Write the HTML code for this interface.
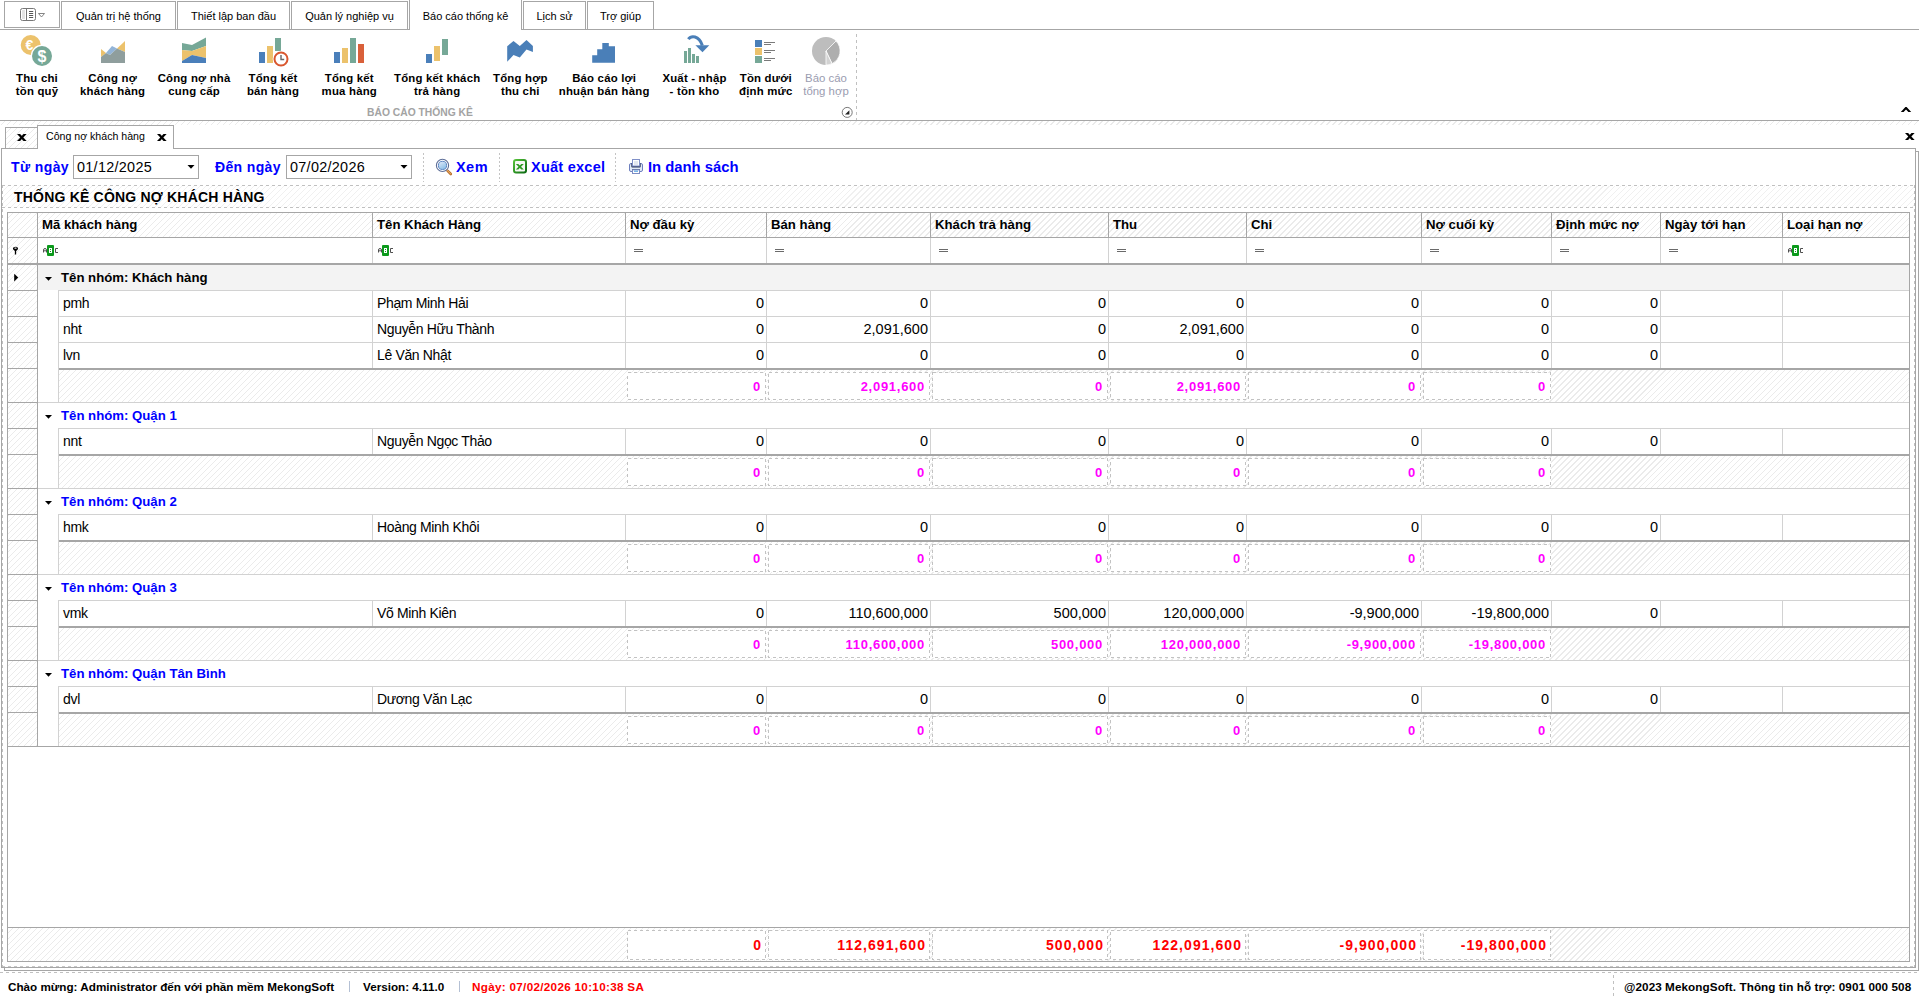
<!DOCTYPE html>
<html><head><meta charset="utf-8">
<style>
*{box-sizing:border-box;margin:0;padding:0}
html,body{width:1919px;height:999px;overflow:hidden;background:#fff}
body{font-family:"Liberation Sans",sans-serif;color:#000;position:relative}
.a{position:absolute}
.hatch{background:repeating-linear-gradient(135deg,#fff 0,#fff 3.2px,#ebebeb 3.2px,#ebebeb 4.24px)}
.hl{position:absolute;height:1px}
.vl{position:absolute;width:1px}
.dh{position:absolute;height:1px;background:repeating-linear-gradient(90deg,#c0c0c0 0 3px,transparent 3px 6px)}
.dv{position:absolute;width:1px;background:repeating-linear-gradient(180deg,#c0c0c0 0 3px,transparent 3px 6px)}
.tab{position:absolute;top:1px;height:29px;border:1px solid #a6a6a6;border-bottom:none;font-size:11px;text-align:center;line-height:28px;color:#000;background:#fff}
.rb{position:absolute;top:72px;font-size:11.4px;letter-spacing:0.2px;font-weight:bold;text-align:center;line-height:13px;white-space:nowrap}
.ri{position:absolute;top:34px}
</style></head>
<body>
<!-- ===== top tab bar ===== -->
<div class="a" style="left:4px;top:1px;width:56px;height:27px;border:1px solid #a6a6a6"></div>
<svg class="a" style="left:19px;top:7px" width="28" height="15" viewBox="0 0 28 15">
 <rect x="1.5" y="1.5" width="15" height="12" rx="2" fill="#fff" stroke="#777" stroke-width="1"/>
 <rect x="3" y="3" width="3" height="9" fill="#e4e4e4"/>
 <line x1="7.5" y1="1.5" x2="7.5" y2="13.5" stroke="#777"/>
 <path d="M10 4.5h4.2M10 6.5h4.2M10 8.5h4.2M10 10.5h4.2" stroke="#444" stroke-width="0.9"/>
 <path d="M19.5 6.5h6l-3 3.5z" fill="#fff" stroke="#777" stroke-width="0.9"/>
</svg>
<div class="tab" style="left:61px;width:115px">Quản trị hệ thống</div>
<div class="tab" style="left:177px;width:113px">Thiết lập ban đầu</div>
<div class="tab" style="left:291px;width:117px">Quản lý nghiệp vụ</div>
<div class="tab" style="left:409px;top:-1px;height:31px;width:113px;line-height:32px">Báo cáo thống kê</div>
<div class="tab" style="left:523px;width:63px">Lịch sử</div>
<div class="tab" style="left:587px;width:67px">Trợ giúp</div>
<div class="hl" style="left:0;top:29px;width:410px;background:#a6a6a6"></div>
<div class="hl" style="left:521px;top:29px;width:1398px;background:#a6a6a6"></div>

<!-- ===== ribbon ===== -->

<svg class="a" style="left:0;top:30px" width="870" height="40" viewBox="0 30 870 40">
 <!-- 1 coins -->
 <circle cx="30.7" cy="45" r="10" fill="#ecc26c"/>
 <text x="29.5" y="50" font-family="Liberation Sans" font-weight="bold" font-size="14" fill="#fff" text-anchor="middle">€</text>
 <circle cx="42" cy="56" r="11.2" fill="#fff"/>
 <circle cx="42" cy="56" r="10" fill="#76a897"/>
 <text x="42" y="62" font-family="Liberation Sans" font-weight="bold" font-size="16" fill="#fff" text-anchor="middle">$</text>
 <!-- 2 area -->
 <polygon points="101,49 106,53 101,57" fill="#ecc26c"/>
 <polygon points="117,48.5 125,41 125,52" fill="#ecc26c"/>
 <polygon points="106,53 112,46 117,48.5 110,55" fill="#92b4d8"/>
 <polygon points="101,57 106,53 110,55 117,48.5 125,52 125,63 101,63" fill="#8f9e9d"/>
 <!-- 3 stacked -->
 <polygon points="182,43 192,45 206,37.5 206,46 192,51 182,50" fill="#76a897"/>
 <polygon points="182,50 192,51 206,46 206,58 192,55 182,61" fill="#ecc26c"/>
 <polygon points="182,61 192,55 206,58 206,63 182,63" fill="#4a7fba"/>
 <!-- 4 bars clock -->
 <rect x="259" y="52" width="6" height="11" fill="#4a7fba"/>
 <rect x="267" y="46" width="6" height="17" fill="#ecc26c"/>
 <rect x="275" y="38" width="6" height="13" fill="#76a897"/>
 <circle cx="281" cy="59" r="8.3" fill="#fff"/>
 <circle cx="281" cy="59" r="6.5" fill="#fff" stroke="#d9572f" stroke-width="2"/>
 <path d="M281 55v4.5h3.2" fill="none" stroke="#666" stroke-width="1.4"/>
 <!-- 5 bars -->
 <rect x="334" y="52" width="6" height="11" fill="#4a7fba"/>
 <rect x="342" y="48" width="6" height="15" fill="#ecc26c"/>
 <rect x="350" y="38" width="6" height="25" fill="#76a897"/>
 <rect x="358" y="44" width="6" height="19" fill="#d9603a"/>
 <!-- 6 -->
 <rect x="426" y="54" width="6" height="9" fill="#4a7fba"/>
 <rect x="434" y="46" width="6" height="15" fill="#ecc26c"/>
 <rect x="442" y="39" width="6" height="16" fill="#76a897"/>
 <!-- 7 -->
 <polygon points="507.2,46.2 513.5,41.1 519.8,45.9 526.5,40 532.9,46 532.9,52.1 526.5,49.4 519.8,57.5 513.5,55 507.2,61.8" fill="#4a7fb8"/>
 <!-- 8 -->
 <polygon points="592.2,55.2 597.2,55.2 597.2,49.2 602.3,49.2 602.3,43.1 608.8,43.1 608.8,46.2 615,46.2 615,62.8 592.2,62.8" fill="#4a7fb8"/>
 <!-- 9 -->
 <rect x="684" y="51" width="3" height="12" fill="#76a897"/>
 <rect x="688" y="48" width="3" height="15" fill="#76a897"/>
 <rect x="692" y="54" width="3" height="9" fill="#76a897"/>
 <rect x="696" y="56" width="3" height="7" fill="#76a897"/>
 <path d="M688.3 39.2 C691 35.5 699 35 702.3 45.5" fill="none" stroke="#4a7fb8" stroke-width="3"/>
 <polygon points="695.4,45.2 709.3,45.2 702.5,52.2" fill="#4a7fb8"/>
 <!-- 10 -->
 <rect x="755" y="40" width="7" height="7" fill="#4a7fb8"/>
 <rect x="755" y="48" width="7" height="7" fill="#ecc26c"/>
 <rect x="755" y="56" width="7" height="7" fill="#76a897"/>
 <path d="M764 42.5h11M764 44.5h7M764 50.5h11M764 52.5h7M764 58.5h11M764 60.5h7" stroke="#7a7a7a" stroke-width="1"/>
 <!-- 11 pie -->
 <circle cx="826" cy="51" r="14" fill="#bdbdbd"/>
 <path d="M826 51 L836 41 A14 14 0 0 1 832 63.6 Z" fill="#aeaeae" stroke="#fff" stroke-width="0.8"/>
 <path d="M826 51 L832 63.6 A14 14 0 0 1 826 65 Z" fill="#d2d2d2" stroke="#fff" stroke-width="0.8"/>
</svg>
<div class="rb" style="left:-23px;width:120px">Thu chi<br>tồn quỹ</div>
<div class="rb" style="left:52.599999999999994px;width:120px">Công nợ<br>khách hàng</div>
<div class="rb" style="left:134.1px;width:120px">Công nợ nhà<br>cung cấp</div>
<div class="rb" style="left:213px;width:120px">Tổng kết<br>bán hàng</div>
<div class="rb" style="left:289.3px;width:120px">Tổng kết<br>mua hàng</div>
<div class="rb" style="left:377.2px;width:120px">Tổng kết khách<br>trả hàng</div>
<div class="rb" style="left:460.29999999999995px;width:120px">Tổng hợp<br>thu chi</div>
<div class="rb" style="left:544.2px;width:120px">Báo cáo lợi<br>nhuận bán hàng</div>
<div class="rb" style="left:634.5px;width:120px">Xuất - nhập<br>- tồn kho</div>
<div class="rb" style="left:705.8px;width:120px">Tồn dưới<br>định mức</div>
<div class="rb" style="left:766px;width:120px;font-weight:normal;letter-spacing:0;color:#9a9cb0">Báo cáo<br>tổng hợp</div>
<div class="a" style="left:300px;width:240px;top:107px;text-align:center;font-size:10.3px;font-weight:bold;color:#a3a3a3;line-height:12px">BÁO CÁO THỐNG KÊ</div>
<div class="dv" style="left:856px;top:34px;height:86px"></div>
<svg class="a" style="left:841px;top:106px" width="13" height="13" viewBox="0 0 13 13"><circle cx="6.2" cy="6.4" r="5" fill="#fff" stroke="#555" stroke-width="0.8"/><polygon points="4,8.6 8.4,8.6 8.4,4.2" fill="#222"/></svg>
<svg class="a" style="left:1900px;top:106px" width="12" height="7" viewBox="0 0 12 7"><polygon points="0.8,6 3.6,6 6,3.6 8.4,6 11.2,6 6.6,1 5.4,1" fill="#000"/></svg>

<div class="hl" style="left:0;top:120px;width:1919px;background:#a6a6a6"></div>

<!-- ===== doc tabs ===== -->
<div class="a hatch" style="left:0;top:121px;width:1919px;height:4px"></div>


<!-- doc tab strip -->
<div class="a hatch" style="left:5px;top:127px;width:33px;height:22px;border:1px solid #a6a6a6;border-bottom:none"></div>
<svg class="a" style="left:17px;top:134px" width="10" height="8" viewBox="0 0 10 8"><polygon points="0,0 3.1,0 9.6,7 6.5,7" fill="#000"/><polygon points="6.5,0 9.6,0 3.1,7 0,7" fill="#000"/></svg>
<div class="a" style="left:37px;top:125px;width:137px;height:25px;border:1px solid #a6a6a6;border-bottom:none;background:#fff"></div>
<div class="a" style="left:46px;top:129px;font-size:10.6px;line-height:14px;white-space:nowrap">Công nợ khách hàng</div>
<svg class="a" style="left:157px;top:134px" width="10" height="8" viewBox="0 0 10 8"><polygon points="0,0 3.1,0 9.6,7 6.5,7" fill="#000"/><polygon points="6.5,0 9.6,0 3.1,7 0,7" fill="#000"/></svg>
<svg class="a" style="left:1905px;top:133px" width="10" height="8" viewBox="0 0 10 8"><polygon points="0,0 3.1,0 9.6,7 6.5,7" fill="#000"/><polygon points="6.5,0 9.6,0 3.1,7 0,7" fill="#000"/></svg>
<!-- panel frames -->
<div class="a" style="left:4px;top:151px;width:1915px;height:820px;border:1px solid #a6a6a6;border-left:1px solid #a6a6a6"></div>
<div class="a" style="left:1px;top:148px;width:1915px;height:820px;border:1px solid #a6a6a6;background:#fff"></div>
<div class="a" style="left:38px;top:148px;width:135px;height:1px;background:#fff"></div>
<!-- layout dashed border -->
<div class="a" style="left:2px;top:966px;width:1913px;height:1px;background:repeating-linear-gradient(90deg,#c8c8c8 0 3px,transparent 3px 6px)"></div>

<div class="a" style="left:11px;top:159px;font-size:14px;font-weight:bold;letter-spacing:0.4px;color:#0000ff;line-height:16px;white-space:nowrap">Từ ngày</div>
<div class="a" style="left:215px;top:159px;font-size:14px;font-weight:bold;letter-spacing:0.35px;color:#0000ff;line-height:16px;white-space:nowrap">Đến ngày</div>
<div class="a" style="left:73px;top:155px;width:126px;height:24px;border:1px solid #a6a6a6;background:#fff"></div>
<div class="a" style="left:77px;top:159px;font-size:14.4px;letter-spacing:0.3px;line-height:16px;white-space:nowrap">01/12/2025</div>
<svg class="a" style="left:186.5px;top:164px" width="8" height="5" viewBox="0 0 8 5"><polygon points="0.5,1 7.5,1 4,4.7" fill="#000"/></svg>
<div class="a" style="left:286px;top:155px;width:126px;height:24px;border:1px solid #a6a6a6;background:#fff"></div>
<div class="a" style="left:290px;top:159px;font-size:14.4px;letter-spacing:0.3px;line-height:16px;white-space:nowrap">07/02/2026</div>
<svg class="a" style="left:399.5px;top:164px" width="8" height="5" viewBox="0 0 8 5"><polygon points="0.5,1 7.5,1 4,4.7" fill="#000"/></svg>
<div class="a" style="left:423px;top:153px;width:1px;height:29px;background:repeating-linear-gradient(180deg,#c4c4c4 0 2px,transparent 2px 4px)"></div>
<div class="a" style="left:499px;top:153px;width:1px;height:29px;background:repeating-linear-gradient(180deg,#c4c4c4 0 2px,transparent 2px 4px)"></div>
<div class="a" style="left:615px;top:153px;width:1px;height:29px;background:repeating-linear-gradient(180deg,#c4c4c4 0 2px,transparent 2px 4px)"></div>
<svg class="a" style="left:435px;top:158px" width="18" height="18" viewBox="0 0 18 18">
<defs><linearGradient id="lg" x1="0" y1="0" x2="0.6" y2="1"><stop offset="0" stop-color="#e6ecfa"/><stop offset="1" stop-color="#8cc0e8"/></linearGradient></defs>
<line x1="12.4" y1="12.6" x2="15.8" y2="16" stroke="#b8702e" stroke-width="2.6" stroke-linecap="round"/>
<line x1="12.4" y1="12.6" x2="15.6" y2="15.8" stroke="#f2b264" stroke-width="1" stroke-linecap="round"/>
<circle cx="7.5" cy="7.4" r="6.1" fill="#fff" stroke="#5e6f98" stroke-width="1.1"/>
<circle cx="7.5" cy="7.4" r="4.1" fill="url(#lg)" stroke="#5d86c4" stroke-width="1"/>
</svg>
<div class="a" style="left:456px;top:159px;font-size:14.5px;font-weight:bold;letter-spacing:0.45px;color:#0000ff;line-height:16px">Xem</div>
<svg class="a" style="left:513px;top:159px" width="14" height="15" viewBox="0 0 14 15">
<defs><linearGradient id="xg" x1="0" y1="0" x2="1" y2="1"><stop offset="0" stop-color="#56c23a"/><stop offset="1" stop-color="#0b6a12"/></linearGradient></defs>
<rect x="1" y="1" width="12" height="12.6" rx="2" fill="#f6f8f4" stroke="url(#xg)" stroke-width="2"/>
<polygon points="2.8,5 5.3,5 10.8,10.6 8.3,10.6" fill="#2c9a20"/>
<polygon points="8.3,5 10.8,5 5.3,10.6 2.8,10.6" fill="#2c9a20"/>
</svg>
<div class="a" style="left:531px;top:159px;font-size:14.5px;font-weight:bold;letter-spacing:0.25px;color:#0000ff;line-height:16px;white-space:nowrap">Xuất excel</div>
<svg class="a" style="left:628px;top:158px" width="16" height="17" viewBox="0 0 16 17">
<rect x="1.5" y="5.5" width="13" height="8" rx="1.5" fill="#e2eaf6" stroke="#6d7fbf" stroke-width="1"/>
<rect x="3.3" y="5" width="9.4" height="4.6" rx="1" fill="#2b3658"/>
<rect x="4.5" y="1.5" width="7" height="6.5" fill="#fff" stroke="#8090c8" stroke-width="1"/>
<rect x="6" y="3" width="4" height="4" fill="#e4e8f0"/>
<rect x="4" y="11" width="8" height="1.3" fill="#2b3658"/>
<rect x="4.5" y="11.8" width="7" height="3.7" fill="#fff" stroke="#7c8cc4" stroke-width="1"/>
<rect x="6" y="12.5" width="4" height="1.4" fill="#6ab0e6"/>
</svg>
<div class="a" style="left:648px;top:159px;font-size:14.8px;font-weight:bold;color:#0000ff;line-height:16px;white-space:nowrap">In danh sách</div>
<div class="a" style="left:3px;top:186px;width:1911px;height:21px;background:repeating-linear-gradient(135deg,#fff 0,#fff 3.2px,#f0f0f0 3.2px,#f0f0f0 4.24px)"></div>
<div class="dh" style="left:2px;top:185px;width:1911px"></div>
<div class="dh" style="left:2px;top:207px;width:1911px"></div>
<div class="a" style="left:14px;top:189px;font-size:14px;font-weight:bold;letter-spacing:0.2px;line-height:16px;white-space:nowrap">THỐNG KÊ CÔNG NỢ KHÁCH HÀNG</div>
<div class="dv" style="left:2px;top:185px;height:782px"></div>
<div class="dv" style="left:1914px;top:185px;height:782px"></div>
<div class="a" style="left:7px;top:212px;width:1903px;height:750px;border:1px solid #a6a6a6;background:#fff"></div>
<div class="a" style="left:8px;top:213px;width:1901px;height:24px;background:repeating-linear-gradient(135deg,#fff 0,#fff 3.2px,#ebebeb 3.2px,#ebebeb 4.24px)"></div>
<div class="hl" style="left:8px;top:237px;width:1901px;background:#a6a6a6"></div>
<div class="vl" style="left:37px;top:213px;height:533px;background:#a6a6a6"></div>
<div class="vl" style="left:372px;top:213px;height:24px;background:#a6a6a6"></div>
<div class="vl" style="left:372px;top:238px;height:25px;background:#d2d2d2"></div>
<div class="vl" style="left:625px;top:213px;height:24px;background:#a6a6a6"></div>
<div class="vl" style="left:625px;top:238px;height:25px;background:#d2d2d2"></div>
<div class="vl" style="left:766px;top:213px;height:24px;background:#a6a6a6"></div>
<div class="vl" style="left:766px;top:238px;height:25px;background:#d2d2d2"></div>
<div class="vl" style="left:930px;top:213px;height:24px;background:#a6a6a6"></div>
<div class="vl" style="left:930px;top:238px;height:25px;background:#d2d2d2"></div>
<div class="vl" style="left:1108px;top:213px;height:24px;background:#a6a6a6"></div>
<div class="vl" style="left:1108px;top:238px;height:25px;background:#d2d2d2"></div>
<div class="vl" style="left:1246px;top:213px;height:24px;background:#a6a6a6"></div>
<div class="vl" style="left:1246px;top:238px;height:25px;background:#d2d2d2"></div>
<div class="vl" style="left:1421px;top:213px;height:24px;background:#a6a6a6"></div>
<div class="vl" style="left:1421px;top:238px;height:25px;background:#d2d2d2"></div>
<div class="vl" style="left:1551px;top:213px;height:24px;background:#a6a6a6"></div>
<div class="vl" style="left:1551px;top:238px;height:25px;background:#d2d2d2"></div>
<div class="vl" style="left:1660px;top:213px;height:24px;background:#a6a6a6"></div>
<div class="vl" style="left:1660px;top:238px;height:25px;background:#d2d2d2"></div>
<div class="vl" style="left:1782px;top:213px;height:24px;background:#a6a6a6"></div>
<div class="vl" style="left:1782px;top:238px;height:25px;background:#d2d2d2"></div>
<div class="a" style="left:42px;top:217px;font-size:13.2px;font-weight:bold;line-height:16px;white-space:nowrap">Mã khách hàng</div>
<div class="a" style="left:377px;top:217px;font-size:13.2px;font-weight:bold;line-height:16px;white-space:nowrap">Tên Khách Hàng</div>
<div class="a" style="left:630px;top:217px;font-size:13.2px;font-weight:bold;line-height:16px;white-space:nowrap">Nợ đầu kỳ</div>
<div class="a" style="left:771px;top:217px;font-size:13.2px;font-weight:bold;line-height:16px;white-space:nowrap">Bán hàng</div>
<div class="a" style="left:935px;top:217px;font-size:13.2px;font-weight:bold;line-height:16px;white-space:nowrap">Khách trả hàng</div>
<div class="a" style="left:1113px;top:217px;font-size:13.2px;font-weight:bold;line-height:16px;white-space:nowrap">Thu</div>
<div class="a" style="left:1251px;top:217px;font-size:13.2px;font-weight:bold;line-height:16px;white-space:nowrap">Chi</div>
<div class="a" style="left:1426px;top:217px;font-size:13.2px;font-weight:bold;line-height:16px;white-space:nowrap">Nợ cuối kỳ</div>
<div class="a" style="left:1556px;top:217px;font-size:13.2px;font-weight:bold;line-height:16px;white-space:nowrap">Định mức nợ</div>
<div class="a" style="left:1665px;top:217px;font-size:13.2px;font-weight:bold;line-height:16px;white-space:nowrap">Ngày tới hạn</div>
<div class="a" style="left:1787px;top:217px;font-size:13.2px;font-weight:bold;line-height:16px;white-space:nowrap">Loại hạn nợ</div>
<div class="a" style="left:8px;top:238px;width:29px;height:25px;background:repeating-linear-gradient(135deg,#fff 0,#fff 3.2px,#ebebeb 3.2px,#ebebeb 4.24px)"></div>
<div class="a" style="left:8px;top:263px;width:1901px;height:2px;background:#a6a6a6"></div>
<svg class="a" style="left:12px;top:246px" width="8" height="9" viewBox="0 0 8 9"><ellipse cx="3.5" cy="2.6" rx="2.6" ry="1.8" fill="#000"/><ellipse cx="3.5" cy="2.1" rx="1.3" ry="0.6" fill="#fff"/><path d="M1.2 3.4L3.5 5.6L5.8 3.4Z" fill="#000"/><line x1="3.5" y1="5" x2="3.5" y2="8.5" stroke="#000" stroke-width="1.3"/></svg>
<svg class="a" style="left:43px;top:244px" width="17" height="13" viewBox="0 0 17 13"><path d="M0.5 8.5V6Q0.5 4.5 2 4.5Q3.5 4.5 3.5 6V8.5M0.5 6.8H3.5" fill="none" stroke="#505050" stroke-width="1"/><rect x="4" y="1" width="7" height="11" rx="1" fill="#0c9a1c"/><rect x="6" y="4" width="3" height="5" fill="#fff"/><rect x="7" y="5" width="1" height="1" fill="#0c9a1c"/><rect x="7" y="7" width="1" height="1" fill="#0c9a1c"/><path d="M15 4.5H12.5V8.5H15" fill="none" stroke="#505050" stroke-width="1"/></svg>
<svg class="a" style="left:378px;top:244px" width="17" height="13" viewBox="0 0 17 13"><path d="M0.5 8.5V6Q0.5 4.5 2 4.5Q3.5 4.5 3.5 6V8.5M0.5 6.8H3.5" fill="none" stroke="#505050" stroke-width="1"/><rect x="4" y="1" width="7" height="11" rx="1" fill="#0c9a1c"/><rect x="6" y="4" width="3" height="5" fill="#fff"/><rect x="7" y="5" width="1" height="1" fill="#0c9a1c"/><rect x="7" y="7" width="1" height="1" fill="#0c9a1c"/><path d="M15 4.5H12.5V8.5H15" fill="none" stroke="#505050" stroke-width="1"/></svg>
<svg class="a" style="left:1788px;top:244px" width="17" height="13" viewBox="0 0 17 13"><path d="M0.5 8.5V6Q0.5 4.5 2 4.5Q3.5 4.5 3.5 6V8.5M0.5 6.8H3.5" fill="none" stroke="#505050" stroke-width="1"/><rect x="4" y="1" width="7" height="11" rx="1" fill="#0c9a1c"/><rect x="6" y="4" width="3" height="5" fill="#fff"/><rect x="7" y="5" width="1" height="1" fill="#0c9a1c"/><rect x="7" y="7" width="1" height="1" fill="#0c9a1c"/><path d="M15 4.5H12.5V8.5H15" fill="none" stroke="#505050" stroke-width="1"/></svg>
<div class="a" style="left:634px;top:249px;width:9px;height:3px;border-top:1px solid #6a6a6a;border-bottom:1px solid #6a6a6a"></div>
<div class="a" style="left:775px;top:249px;width:9px;height:3px;border-top:1px solid #6a6a6a;border-bottom:1px solid #6a6a6a"></div>
<div class="a" style="left:939px;top:249px;width:9px;height:3px;border-top:1px solid #6a6a6a;border-bottom:1px solid #6a6a6a"></div>
<div class="a" style="left:1117px;top:249px;width:9px;height:3px;border-top:1px solid #6a6a6a;border-bottom:1px solid #6a6a6a"></div>
<div class="a" style="left:1255px;top:249px;width:9px;height:3px;border-top:1px solid #6a6a6a;border-bottom:1px solid #6a6a6a"></div>
<div class="a" style="left:1430px;top:249px;width:9px;height:3px;border-top:1px solid #6a6a6a;border-bottom:1px solid #6a6a6a"></div>
<div class="a" style="left:1560px;top:249px;width:9px;height:3px;border-top:1px solid #6a6a6a;border-bottom:1px solid #6a6a6a"></div>
<div class="a" style="left:1669px;top:249px;width:9px;height:3px;border-top:1px solid #6a6a6a;border-bottom:1px solid #6a6a6a"></div>
<div class="a" style="left:8px;top:265px;width:29px;height:481px;background:repeating-linear-gradient(135deg,#fff 0,#fff 3.2px,#ebebeb 3.2px,#ebebeb 4.24px)"></div>
<div class="a" style="left:38px;top:265px;width:1871px;height:25px;background:#f3f3f3"></div>
<svg class="a" style="left:13px;top:273px" width="6" height="9" viewBox="0 0 6 9"><polygon points="1.2,0.8 5.2,4.6 1.2,8.4" fill="#000"/></svg>
<svg class="a" style="left:44px;top:276px" width="9" height="5" viewBox="0 0 9 5"><polygon points="1,1 8,1 4.5,4.8" fill="#000"/></svg>
<div class="a" style="left:61px;top:270px;font-size:13.2px;font-weight:bold;color:#000;line-height:16px;white-space:nowrap">Tên nhóm: Khách hàng</div>
<div class="hl" style="left:58px;top:290px;width:1851px;background:#d2d2d2"></div>
<div class="vl" style="left:372px;top:290px;height:26px;background:#d2d2d2"></div>
<div class="vl" style="left:625px;top:290px;height:26px;background:#d2d2d2"></div>
<div class="vl" style="left:766px;top:290px;height:26px;background:#d2d2d2"></div>
<div class="vl" style="left:930px;top:290px;height:26px;background:#d2d2d2"></div>
<div class="vl" style="left:1108px;top:290px;height:26px;background:#d2d2d2"></div>
<div class="vl" style="left:1246px;top:290px;height:26px;background:#d2d2d2"></div>
<div class="vl" style="left:1421px;top:290px;height:26px;background:#d2d2d2"></div>
<div class="vl" style="left:1551px;top:290px;height:26px;background:#d2d2d2"></div>
<div class="vl" style="left:1660px;top:290px;height:26px;background:#d2d2d2"></div>
<div class="vl" style="left:1782px;top:290px;height:26px;background:#d2d2d2"></div>
<div class="a" style="left:63px;top:295px;font-size:14px;letter-spacing:-0.3px;line-height:16px;white-space:nowrap">pmh</div>
<div class="a" style="left:377px;top:295px;font-size:14px;letter-spacing:-0.35px;line-height:16px;white-space:nowrap">Phạm Minh Hải</div>
<div class="a" style="left:626px;top:295px;width:138px;text-align:right;font-size:14.5px;line-height:16px;white-space:nowrap">0</div>
<div class="a" style="left:767px;top:295px;width:161px;text-align:right;font-size:14.5px;line-height:16px;white-space:nowrap">0</div>
<div class="a" style="left:931px;top:295px;width:175px;text-align:right;font-size:14.5px;line-height:16px;white-space:nowrap">0</div>
<div class="a" style="left:1109px;top:295px;width:135px;text-align:right;font-size:14.5px;line-height:16px;white-space:nowrap">0</div>
<div class="a" style="left:1247px;top:295px;width:172px;text-align:right;font-size:14.5px;line-height:16px;white-space:nowrap">0</div>
<div class="a" style="left:1422px;top:295px;width:127px;text-align:right;font-size:14.5px;line-height:16px;white-space:nowrap">0</div>
<div class="a" style="left:1552px;top:295px;width:106px;text-align:right;font-size:14.5px;line-height:16px;white-space:nowrap">0</div>
<div class="hl" style="left:58px;top:316px;width:1851px;background:#d2d2d2"></div>
<div class="vl" style="left:372px;top:316px;height:26px;background:#d2d2d2"></div>
<div class="vl" style="left:625px;top:316px;height:26px;background:#d2d2d2"></div>
<div class="vl" style="left:766px;top:316px;height:26px;background:#d2d2d2"></div>
<div class="vl" style="left:930px;top:316px;height:26px;background:#d2d2d2"></div>
<div class="vl" style="left:1108px;top:316px;height:26px;background:#d2d2d2"></div>
<div class="vl" style="left:1246px;top:316px;height:26px;background:#d2d2d2"></div>
<div class="vl" style="left:1421px;top:316px;height:26px;background:#d2d2d2"></div>
<div class="vl" style="left:1551px;top:316px;height:26px;background:#d2d2d2"></div>
<div class="vl" style="left:1660px;top:316px;height:26px;background:#d2d2d2"></div>
<div class="vl" style="left:1782px;top:316px;height:26px;background:#d2d2d2"></div>
<div class="a" style="left:63px;top:321px;font-size:14px;letter-spacing:-0.3px;line-height:16px;white-space:nowrap">nht</div>
<div class="a" style="left:377px;top:321px;font-size:14px;letter-spacing:-0.35px;line-height:16px;white-space:nowrap">Nguyễn Hữu Thành</div>
<div class="a" style="left:626px;top:321px;width:138px;text-align:right;font-size:14.5px;line-height:16px;white-space:nowrap">0</div>
<div class="a" style="left:767px;top:321px;width:161px;text-align:right;font-size:14.5px;line-height:16px;white-space:nowrap">2,091,600</div>
<div class="a" style="left:931px;top:321px;width:175px;text-align:right;font-size:14.5px;line-height:16px;white-space:nowrap">0</div>
<div class="a" style="left:1109px;top:321px;width:135px;text-align:right;font-size:14.5px;line-height:16px;white-space:nowrap">2,091,600</div>
<div class="a" style="left:1247px;top:321px;width:172px;text-align:right;font-size:14.5px;line-height:16px;white-space:nowrap">0</div>
<div class="a" style="left:1422px;top:321px;width:127px;text-align:right;font-size:14.5px;line-height:16px;white-space:nowrap">0</div>
<div class="a" style="left:1552px;top:321px;width:106px;text-align:right;font-size:14.5px;line-height:16px;white-space:nowrap">0</div>
<div class="hl" style="left:58px;top:342px;width:1851px;background:#d2d2d2"></div>
<div class="vl" style="left:372px;top:342px;height:26px;background:#d2d2d2"></div>
<div class="vl" style="left:625px;top:342px;height:26px;background:#d2d2d2"></div>
<div class="vl" style="left:766px;top:342px;height:26px;background:#d2d2d2"></div>
<div class="vl" style="left:930px;top:342px;height:26px;background:#d2d2d2"></div>
<div class="vl" style="left:1108px;top:342px;height:26px;background:#d2d2d2"></div>
<div class="vl" style="left:1246px;top:342px;height:26px;background:#d2d2d2"></div>
<div class="vl" style="left:1421px;top:342px;height:26px;background:#d2d2d2"></div>
<div class="vl" style="left:1551px;top:342px;height:26px;background:#d2d2d2"></div>
<div class="vl" style="left:1660px;top:342px;height:26px;background:#d2d2d2"></div>
<div class="vl" style="left:1782px;top:342px;height:26px;background:#d2d2d2"></div>
<div class="a" style="left:63px;top:347px;font-size:14px;letter-spacing:-0.3px;line-height:16px;white-space:nowrap">lvn</div>
<div class="a" style="left:377px;top:347px;font-size:14px;letter-spacing:-0.35px;line-height:16px;white-space:nowrap">Lê Văn Nhật</div>
<div class="a" style="left:626px;top:347px;width:138px;text-align:right;font-size:14.5px;line-height:16px;white-space:nowrap">0</div>
<div class="a" style="left:767px;top:347px;width:161px;text-align:right;font-size:14.5px;line-height:16px;white-space:nowrap">0</div>
<div class="a" style="left:931px;top:347px;width:175px;text-align:right;font-size:14.5px;line-height:16px;white-space:nowrap">0</div>
<div class="a" style="left:1109px;top:347px;width:135px;text-align:right;font-size:14.5px;line-height:16px;white-space:nowrap">0</div>
<div class="a" style="left:1247px;top:347px;width:172px;text-align:right;font-size:14.5px;line-height:16px;white-space:nowrap">0</div>
<div class="a" style="left:1422px;top:347px;width:127px;text-align:right;font-size:14.5px;line-height:16px;white-space:nowrap">0</div>
<div class="a" style="left:1552px;top:347px;width:106px;text-align:right;font-size:14.5px;line-height:16px;white-space:nowrap">0</div>
<div class="a" style="left:58px;top:368px;width:1851px;height:2px;background:#a6a6a6"></div>
<div class="vl" style="left:58px;top:290px;height:112px;background:#d2d2d2"></div>
<div class="a" style="left:59px;top:370px;width:1850px;height:32px;background:repeating-linear-gradient(135deg,#fff 0,#fff 3.2px,#ebebeb 3.2px,#ebebeb 4.24px)"></div>
<svg class="a" style="left:627px;top:372px" width="139" height="28"><rect x="0.5" y="0.5" width="138" height="27" fill="#fff" stroke="#c2c2c2" stroke-width="1" stroke-dasharray="3 3" shape-rendering="crispEdges"/></svg>
<div class="a" style="left:626px;top:379px;width:135px;text-align:right;font-size:13px;font-weight:bold;letter-spacing:0.72px;color:#ff00ff;line-height:16px;white-space:nowrap">0</div>
<svg class="a" style="left:768px;top:372px" width="162" height="28"><rect x="0.5" y="0.5" width="161" height="27" fill="#fff" stroke="#c2c2c2" stroke-width="1" stroke-dasharray="3 3" shape-rendering="crispEdges"/></svg>
<div class="a" style="left:767px;top:379px;width:158px;text-align:right;font-size:13px;font-weight:bold;letter-spacing:0.72px;color:#ff00ff;line-height:16px;white-space:nowrap">2,091,600</div>
<svg class="a" style="left:932px;top:372px" width="176" height="28"><rect x="0.5" y="0.5" width="175" height="27" fill="#fff" stroke="#c2c2c2" stroke-width="1" stroke-dasharray="3 3" shape-rendering="crispEdges"/></svg>
<div class="a" style="left:931px;top:379px;width:172px;text-align:right;font-size:13px;font-weight:bold;letter-spacing:0.72px;color:#ff00ff;line-height:16px;white-space:nowrap">0</div>
<svg class="a" style="left:1110px;top:372px" width="136" height="28"><rect x="0.5" y="0.5" width="135" height="27" fill="#fff" stroke="#c2c2c2" stroke-width="1" stroke-dasharray="3 3" shape-rendering="crispEdges"/></svg>
<div class="a" style="left:1109px;top:379px;width:132px;text-align:right;font-size:13px;font-weight:bold;letter-spacing:0.72px;color:#ff00ff;line-height:16px;white-space:nowrap">2,091,600</div>
<svg class="a" style="left:1248px;top:372px" width="173" height="28"><rect x="0.5" y="0.5" width="172" height="27" fill="#fff" stroke="#c2c2c2" stroke-width="1" stroke-dasharray="3 3" shape-rendering="crispEdges"/></svg>
<div class="a" style="left:1247px;top:379px;width:169px;text-align:right;font-size:13px;font-weight:bold;letter-spacing:0.72px;color:#ff00ff;line-height:16px;white-space:nowrap">0</div>
<svg class="a" style="left:1423px;top:372px" width="128" height="28"><rect x="0.5" y="0.5" width="127" height="27" fill="#fff" stroke="#c2c2c2" stroke-width="1" stroke-dasharray="3 3" shape-rendering="crispEdges"/></svg>
<div class="a" style="left:1422px;top:379px;width:124px;text-align:right;font-size:13px;font-weight:bold;letter-spacing:0.72px;color:#ff00ff;line-height:16px;white-space:nowrap">0</div>
<div class="hl" style="left:38px;top:402px;width:1871px;background:#d2d2d2"></div>
<svg class="a" style="left:44px;top:414px" width="9" height="5" viewBox="0 0 9 5"><polygon points="1,1 8,1 4.5,4.8" fill="#000"/></svg>
<div class="a" style="left:61px;top:408px;font-size:13.2px;font-weight:bold;color:#0000ff;line-height:16px;white-space:nowrap">Tên nhóm: Quận 1</div>
<div class="hl" style="left:58px;top:428px;width:1851px;background:#d2d2d2"></div>
<div class="vl" style="left:372px;top:428px;height:26px;background:#d2d2d2"></div>
<div class="vl" style="left:625px;top:428px;height:26px;background:#d2d2d2"></div>
<div class="vl" style="left:766px;top:428px;height:26px;background:#d2d2d2"></div>
<div class="vl" style="left:930px;top:428px;height:26px;background:#d2d2d2"></div>
<div class="vl" style="left:1108px;top:428px;height:26px;background:#d2d2d2"></div>
<div class="vl" style="left:1246px;top:428px;height:26px;background:#d2d2d2"></div>
<div class="vl" style="left:1421px;top:428px;height:26px;background:#d2d2d2"></div>
<div class="vl" style="left:1551px;top:428px;height:26px;background:#d2d2d2"></div>
<div class="vl" style="left:1660px;top:428px;height:26px;background:#d2d2d2"></div>
<div class="vl" style="left:1782px;top:428px;height:26px;background:#d2d2d2"></div>
<div class="a" style="left:63px;top:433px;font-size:14px;letter-spacing:-0.3px;line-height:16px;white-space:nowrap">nnt</div>
<div class="a" style="left:377px;top:433px;font-size:14px;letter-spacing:-0.35px;line-height:16px;white-space:nowrap">Nguyễn Ngọc Thảo</div>
<div class="a" style="left:626px;top:433px;width:138px;text-align:right;font-size:14.5px;line-height:16px;white-space:nowrap">0</div>
<div class="a" style="left:767px;top:433px;width:161px;text-align:right;font-size:14.5px;line-height:16px;white-space:nowrap">0</div>
<div class="a" style="left:931px;top:433px;width:175px;text-align:right;font-size:14.5px;line-height:16px;white-space:nowrap">0</div>
<div class="a" style="left:1109px;top:433px;width:135px;text-align:right;font-size:14.5px;line-height:16px;white-space:nowrap">0</div>
<div class="a" style="left:1247px;top:433px;width:172px;text-align:right;font-size:14.5px;line-height:16px;white-space:nowrap">0</div>
<div class="a" style="left:1422px;top:433px;width:127px;text-align:right;font-size:14.5px;line-height:16px;white-space:nowrap">0</div>
<div class="a" style="left:1552px;top:433px;width:106px;text-align:right;font-size:14.5px;line-height:16px;white-space:nowrap">0</div>
<div class="a" style="left:58px;top:454px;width:1851px;height:2px;background:#a6a6a6"></div>
<div class="vl" style="left:58px;top:428px;height:60px;background:#d2d2d2"></div>
<div class="a" style="left:59px;top:456px;width:1850px;height:32px;background:repeating-linear-gradient(135deg,#fff 0,#fff 3.2px,#ebebeb 3.2px,#ebebeb 4.24px)"></div>
<svg class="a" style="left:627px;top:458px" width="139" height="28"><rect x="0.5" y="0.5" width="138" height="27" fill="#fff" stroke="#c2c2c2" stroke-width="1" stroke-dasharray="3 3" shape-rendering="crispEdges"/></svg>
<div class="a" style="left:626px;top:465px;width:135px;text-align:right;font-size:13px;font-weight:bold;letter-spacing:0.72px;color:#ff00ff;line-height:16px;white-space:nowrap">0</div>
<svg class="a" style="left:768px;top:458px" width="162" height="28"><rect x="0.5" y="0.5" width="161" height="27" fill="#fff" stroke="#c2c2c2" stroke-width="1" stroke-dasharray="3 3" shape-rendering="crispEdges"/></svg>
<div class="a" style="left:767px;top:465px;width:158px;text-align:right;font-size:13px;font-weight:bold;letter-spacing:0.72px;color:#ff00ff;line-height:16px;white-space:nowrap">0</div>
<svg class="a" style="left:932px;top:458px" width="176" height="28"><rect x="0.5" y="0.5" width="175" height="27" fill="#fff" stroke="#c2c2c2" stroke-width="1" stroke-dasharray="3 3" shape-rendering="crispEdges"/></svg>
<div class="a" style="left:931px;top:465px;width:172px;text-align:right;font-size:13px;font-weight:bold;letter-spacing:0.72px;color:#ff00ff;line-height:16px;white-space:nowrap">0</div>
<svg class="a" style="left:1110px;top:458px" width="136" height="28"><rect x="0.5" y="0.5" width="135" height="27" fill="#fff" stroke="#c2c2c2" stroke-width="1" stroke-dasharray="3 3" shape-rendering="crispEdges"/></svg>
<div class="a" style="left:1109px;top:465px;width:132px;text-align:right;font-size:13px;font-weight:bold;letter-spacing:0.72px;color:#ff00ff;line-height:16px;white-space:nowrap">0</div>
<svg class="a" style="left:1248px;top:458px" width="173" height="28"><rect x="0.5" y="0.5" width="172" height="27" fill="#fff" stroke="#c2c2c2" stroke-width="1" stroke-dasharray="3 3" shape-rendering="crispEdges"/></svg>
<div class="a" style="left:1247px;top:465px;width:169px;text-align:right;font-size:13px;font-weight:bold;letter-spacing:0.72px;color:#ff00ff;line-height:16px;white-space:nowrap">0</div>
<svg class="a" style="left:1423px;top:458px" width="128" height="28"><rect x="0.5" y="0.5" width="127" height="27" fill="#fff" stroke="#c2c2c2" stroke-width="1" stroke-dasharray="3 3" shape-rendering="crispEdges"/></svg>
<div class="a" style="left:1422px;top:465px;width:124px;text-align:right;font-size:13px;font-weight:bold;letter-spacing:0.72px;color:#ff00ff;line-height:16px;white-space:nowrap">0</div>
<div class="hl" style="left:38px;top:488px;width:1871px;background:#d2d2d2"></div>
<svg class="a" style="left:44px;top:500px" width="9" height="5" viewBox="0 0 9 5"><polygon points="1,1 8,1 4.5,4.8" fill="#000"/></svg>
<div class="a" style="left:61px;top:494px;font-size:13.2px;font-weight:bold;color:#0000ff;line-height:16px;white-space:nowrap">Tên nhóm: Quận 2</div>
<div class="hl" style="left:58px;top:514px;width:1851px;background:#d2d2d2"></div>
<div class="vl" style="left:372px;top:514px;height:26px;background:#d2d2d2"></div>
<div class="vl" style="left:625px;top:514px;height:26px;background:#d2d2d2"></div>
<div class="vl" style="left:766px;top:514px;height:26px;background:#d2d2d2"></div>
<div class="vl" style="left:930px;top:514px;height:26px;background:#d2d2d2"></div>
<div class="vl" style="left:1108px;top:514px;height:26px;background:#d2d2d2"></div>
<div class="vl" style="left:1246px;top:514px;height:26px;background:#d2d2d2"></div>
<div class="vl" style="left:1421px;top:514px;height:26px;background:#d2d2d2"></div>
<div class="vl" style="left:1551px;top:514px;height:26px;background:#d2d2d2"></div>
<div class="vl" style="left:1660px;top:514px;height:26px;background:#d2d2d2"></div>
<div class="vl" style="left:1782px;top:514px;height:26px;background:#d2d2d2"></div>
<div class="a" style="left:63px;top:519px;font-size:14px;letter-spacing:-0.3px;line-height:16px;white-space:nowrap">hmk</div>
<div class="a" style="left:377px;top:519px;font-size:14px;letter-spacing:-0.35px;line-height:16px;white-space:nowrap">Hoàng Minh Khôi</div>
<div class="a" style="left:626px;top:519px;width:138px;text-align:right;font-size:14.5px;line-height:16px;white-space:nowrap">0</div>
<div class="a" style="left:767px;top:519px;width:161px;text-align:right;font-size:14.5px;line-height:16px;white-space:nowrap">0</div>
<div class="a" style="left:931px;top:519px;width:175px;text-align:right;font-size:14.5px;line-height:16px;white-space:nowrap">0</div>
<div class="a" style="left:1109px;top:519px;width:135px;text-align:right;font-size:14.5px;line-height:16px;white-space:nowrap">0</div>
<div class="a" style="left:1247px;top:519px;width:172px;text-align:right;font-size:14.5px;line-height:16px;white-space:nowrap">0</div>
<div class="a" style="left:1422px;top:519px;width:127px;text-align:right;font-size:14.5px;line-height:16px;white-space:nowrap">0</div>
<div class="a" style="left:1552px;top:519px;width:106px;text-align:right;font-size:14.5px;line-height:16px;white-space:nowrap">0</div>
<div class="a" style="left:58px;top:540px;width:1851px;height:2px;background:#a6a6a6"></div>
<div class="vl" style="left:58px;top:514px;height:60px;background:#d2d2d2"></div>
<div class="a" style="left:59px;top:542px;width:1850px;height:32px;background:repeating-linear-gradient(135deg,#fff 0,#fff 3.2px,#ebebeb 3.2px,#ebebeb 4.24px)"></div>
<svg class="a" style="left:627px;top:544px" width="139" height="28"><rect x="0.5" y="0.5" width="138" height="27" fill="#fff" stroke="#c2c2c2" stroke-width="1" stroke-dasharray="3 3" shape-rendering="crispEdges"/></svg>
<div class="a" style="left:626px;top:551px;width:135px;text-align:right;font-size:13px;font-weight:bold;letter-spacing:0.72px;color:#ff00ff;line-height:16px;white-space:nowrap">0</div>
<svg class="a" style="left:768px;top:544px" width="162" height="28"><rect x="0.5" y="0.5" width="161" height="27" fill="#fff" stroke="#c2c2c2" stroke-width="1" stroke-dasharray="3 3" shape-rendering="crispEdges"/></svg>
<div class="a" style="left:767px;top:551px;width:158px;text-align:right;font-size:13px;font-weight:bold;letter-spacing:0.72px;color:#ff00ff;line-height:16px;white-space:nowrap">0</div>
<svg class="a" style="left:932px;top:544px" width="176" height="28"><rect x="0.5" y="0.5" width="175" height="27" fill="#fff" stroke="#c2c2c2" stroke-width="1" stroke-dasharray="3 3" shape-rendering="crispEdges"/></svg>
<div class="a" style="left:931px;top:551px;width:172px;text-align:right;font-size:13px;font-weight:bold;letter-spacing:0.72px;color:#ff00ff;line-height:16px;white-space:nowrap">0</div>
<svg class="a" style="left:1110px;top:544px" width="136" height="28"><rect x="0.5" y="0.5" width="135" height="27" fill="#fff" stroke="#c2c2c2" stroke-width="1" stroke-dasharray="3 3" shape-rendering="crispEdges"/></svg>
<div class="a" style="left:1109px;top:551px;width:132px;text-align:right;font-size:13px;font-weight:bold;letter-spacing:0.72px;color:#ff00ff;line-height:16px;white-space:nowrap">0</div>
<svg class="a" style="left:1248px;top:544px" width="173" height="28"><rect x="0.5" y="0.5" width="172" height="27" fill="#fff" stroke="#c2c2c2" stroke-width="1" stroke-dasharray="3 3" shape-rendering="crispEdges"/></svg>
<div class="a" style="left:1247px;top:551px;width:169px;text-align:right;font-size:13px;font-weight:bold;letter-spacing:0.72px;color:#ff00ff;line-height:16px;white-space:nowrap">0</div>
<svg class="a" style="left:1423px;top:544px" width="128" height="28"><rect x="0.5" y="0.5" width="127" height="27" fill="#fff" stroke="#c2c2c2" stroke-width="1" stroke-dasharray="3 3" shape-rendering="crispEdges"/></svg>
<div class="a" style="left:1422px;top:551px;width:124px;text-align:right;font-size:13px;font-weight:bold;letter-spacing:0.72px;color:#ff00ff;line-height:16px;white-space:nowrap">0</div>
<div class="hl" style="left:38px;top:574px;width:1871px;background:#d2d2d2"></div>
<svg class="a" style="left:44px;top:586px" width="9" height="5" viewBox="0 0 9 5"><polygon points="1,1 8,1 4.5,4.8" fill="#000"/></svg>
<div class="a" style="left:61px;top:580px;font-size:13.2px;font-weight:bold;color:#0000ff;line-height:16px;white-space:nowrap">Tên nhóm: Quận 3</div>
<div class="hl" style="left:58px;top:600px;width:1851px;background:#d2d2d2"></div>
<div class="vl" style="left:372px;top:600px;height:26px;background:#d2d2d2"></div>
<div class="vl" style="left:625px;top:600px;height:26px;background:#d2d2d2"></div>
<div class="vl" style="left:766px;top:600px;height:26px;background:#d2d2d2"></div>
<div class="vl" style="left:930px;top:600px;height:26px;background:#d2d2d2"></div>
<div class="vl" style="left:1108px;top:600px;height:26px;background:#d2d2d2"></div>
<div class="vl" style="left:1246px;top:600px;height:26px;background:#d2d2d2"></div>
<div class="vl" style="left:1421px;top:600px;height:26px;background:#d2d2d2"></div>
<div class="vl" style="left:1551px;top:600px;height:26px;background:#d2d2d2"></div>
<div class="vl" style="left:1660px;top:600px;height:26px;background:#d2d2d2"></div>
<div class="vl" style="left:1782px;top:600px;height:26px;background:#d2d2d2"></div>
<div class="a" style="left:63px;top:605px;font-size:14px;letter-spacing:-0.3px;line-height:16px;white-space:nowrap">vmk</div>
<div class="a" style="left:377px;top:605px;font-size:14px;letter-spacing:-0.35px;line-height:16px;white-space:nowrap">Võ Minh Kiên</div>
<div class="a" style="left:626px;top:605px;width:138px;text-align:right;font-size:14.5px;line-height:16px;white-space:nowrap">0</div>
<div class="a" style="left:767px;top:605px;width:161px;text-align:right;font-size:14.5px;line-height:16px;white-space:nowrap">110,600,000</div>
<div class="a" style="left:931px;top:605px;width:175px;text-align:right;font-size:14.5px;line-height:16px;white-space:nowrap">500,000</div>
<div class="a" style="left:1109px;top:605px;width:135px;text-align:right;font-size:14.5px;line-height:16px;white-space:nowrap">120,000,000</div>
<div class="a" style="left:1247px;top:605px;width:172px;text-align:right;font-size:14.5px;line-height:16px;white-space:nowrap">-9,900,000</div>
<div class="a" style="left:1422px;top:605px;width:127px;text-align:right;font-size:14.5px;line-height:16px;white-space:nowrap">-19,800,000</div>
<div class="a" style="left:1552px;top:605px;width:106px;text-align:right;font-size:14.5px;line-height:16px;white-space:nowrap">0</div>
<div class="a" style="left:58px;top:626px;width:1851px;height:2px;background:#a6a6a6"></div>
<div class="vl" style="left:58px;top:600px;height:60px;background:#d2d2d2"></div>
<div class="a" style="left:59px;top:628px;width:1850px;height:32px;background:repeating-linear-gradient(135deg,#fff 0,#fff 3.2px,#ebebeb 3.2px,#ebebeb 4.24px)"></div>
<svg class="a" style="left:627px;top:630px" width="139" height="28"><rect x="0.5" y="0.5" width="138" height="27" fill="#fff" stroke="#c2c2c2" stroke-width="1" stroke-dasharray="3 3" shape-rendering="crispEdges"/></svg>
<div class="a" style="left:626px;top:637px;width:135px;text-align:right;font-size:13px;font-weight:bold;letter-spacing:0.72px;color:#ff00ff;line-height:16px;white-space:nowrap">0</div>
<svg class="a" style="left:768px;top:630px" width="162" height="28"><rect x="0.5" y="0.5" width="161" height="27" fill="#fff" stroke="#c2c2c2" stroke-width="1" stroke-dasharray="3 3" shape-rendering="crispEdges"/></svg>
<div class="a" style="left:767px;top:637px;width:158px;text-align:right;font-size:13px;font-weight:bold;letter-spacing:0.72px;color:#ff00ff;line-height:16px;white-space:nowrap">110,600,000</div>
<svg class="a" style="left:932px;top:630px" width="176" height="28"><rect x="0.5" y="0.5" width="175" height="27" fill="#fff" stroke="#c2c2c2" stroke-width="1" stroke-dasharray="3 3" shape-rendering="crispEdges"/></svg>
<div class="a" style="left:931px;top:637px;width:172px;text-align:right;font-size:13px;font-weight:bold;letter-spacing:0.72px;color:#ff00ff;line-height:16px;white-space:nowrap">500,000</div>
<svg class="a" style="left:1110px;top:630px" width="136" height="28"><rect x="0.5" y="0.5" width="135" height="27" fill="#fff" stroke="#c2c2c2" stroke-width="1" stroke-dasharray="3 3" shape-rendering="crispEdges"/></svg>
<div class="a" style="left:1109px;top:637px;width:132px;text-align:right;font-size:13px;font-weight:bold;letter-spacing:0.72px;color:#ff00ff;line-height:16px;white-space:nowrap">120,000,000</div>
<svg class="a" style="left:1248px;top:630px" width="173" height="28"><rect x="0.5" y="0.5" width="172" height="27" fill="#fff" stroke="#c2c2c2" stroke-width="1" stroke-dasharray="3 3" shape-rendering="crispEdges"/></svg>
<div class="a" style="left:1247px;top:637px;width:169px;text-align:right;font-size:13px;font-weight:bold;letter-spacing:0.72px;color:#ff00ff;line-height:16px;white-space:nowrap">-9,900,000</div>
<svg class="a" style="left:1423px;top:630px" width="128" height="28"><rect x="0.5" y="0.5" width="127" height="27" fill="#fff" stroke="#c2c2c2" stroke-width="1" stroke-dasharray="3 3" shape-rendering="crispEdges"/></svg>
<div class="a" style="left:1422px;top:637px;width:124px;text-align:right;font-size:13px;font-weight:bold;letter-spacing:0.72px;color:#ff00ff;line-height:16px;white-space:nowrap">-19,800,000</div>
<div class="hl" style="left:38px;top:660px;width:1871px;background:#d2d2d2"></div>
<svg class="a" style="left:44px;top:672px" width="9" height="5" viewBox="0 0 9 5"><polygon points="1,1 8,1 4.5,4.8" fill="#000"/></svg>
<div class="a" style="left:61px;top:666px;font-size:13.2px;font-weight:bold;color:#0000ff;line-height:16px;white-space:nowrap">Tên nhóm: Quận Tân Bình</div>
<div class="hl" style="left:58px;top:686px;width:1851px;background:#d2d2d2"></div>
<div class="vl" style="left:372px;top:686px;height:26px;background:#d2d2d2"></div>
<div class="vl" style="left:625px;top:686px;height:26px;background:#d2d2d2"></div>
<div class="vl" style="left:766px;top:686px;height:26px;background:#d2d2d2"></div>
<div class="vl" style="left:930px;top:686px;height:26px;background:#d2d2d2"></div>
<div class="vl" style="left:1108px;top:686px;height:26px;background:#d2d2d2"></div>
<div class="vl" style="left:1246px;top:686px;height:26px;background:#d2d2d2"></div>
<div class="vl" style="left:1421px;top:686px;height:26px;background:#d2d2d2"></div>
<div class="vl" style="left:1551px;top:686px;height:26px;background:#d2d2d2"></div>
<div class="vl" style="left:1660px;top:686px;height:26px;background:#d2d2d2"></div>
<div class="vl" style="left:1782px;top:686px;height:26px;background:#d2d2d2"></div>
<div class="a" style="left:63px;top:691px;font-size:14px;letter-spacing:-0.3px;line-height:16px;white-space:nowrap">dvl</div>
<div class="a" style="left:377px;top:691px;font-size:14px;letter-spacing:-0.35px;line-height:16px;white-space:nowrap">Dương Văn Lạc</div>
<div class="a" style="left:626px;top:691px;width:138px;text-align:right;font-size:14.5px;line-height:16px;white-space:nowrap">0</div>
<div class="a" style="left:767px;top:691px;width:161px;text-align:right;font-size:14.5px;line-height:16px;white-space:nowrap">0</div>
<div class="a" style="left:931px;top:691px;width:175px;text-align:right;font-size:14.5px;line-height:16px;white-space:nowrap">0</div>
<div class="a" style="left:1109px;top:691px;width:135px;text-align:right;font-size:14.5px;line-height:16px;white-space:nowrap">0</div>
<div class="a" style="left:1247px;top:691px;width:172px;text-align:right;font-size:14.5px;line-height:16px;white-space:nowrap">0</div>
<div class="a" style="left:1422px;top:691px;width:127px;text-align:right;font-size:14.5px;line-height:16px;white-space:nowrap">0</div>
<div class="a" style="left:1552px;top:691px;width:106px;text-align:right;font-size:14.5px;line-height:16px;white-space:nowrap">0</div>
<div class="a" style="left:58px;top:712px;width:1851px;height:2px;background:#a6a6a6"></div>
<div class="vl" style="left:58px;top:686px;height:60px;background:#d2d2d2"></div>
<div class="a" style="left:59px;top:714px;width:1850px;height:32px;background:repeating-linear-gradient(135deg,#fff 0,#fff 3.2px,#ebebeb 3.2px,#ebebeb 4.24px)"></div>
<svg class="a" style="left:627px;top:716px" width="139" height="28"><rect x="0.5" y="0.5" width="138" height="27" fill="#fff" stroke="#c2c2c2" stroke-width="1" stroke-dasharray="3 3" shape-rendering="crispEdges"/></svg>
<div class="a" style="left:626px;top:723px;width:135px;text-align:right;font-size:13px;font-weight:bold;letter-spacing:0.72px;color:#ff00ff;line-height:16px;white-space:nowrap">0</div>
<svg class="a" style="left:768px;top:716px" width="162" height="28"><rect x="0.5" y="0.5" width="161" height="27" fill="#fff" stroke="#c2c2c2" stroke-width="1" stroke-dasharray="3 3" shape-rendering="crispEdges"/></svg>
<div class="a" style="left:767px;top:723px;width:158px;text-align:right;font-size:13px;font-weight:bold;letter-spacing:0.72px;color:#ff00ff;line-height:16px;white-space:nowrap">0</div>
<svg class="a" style="left:932px;top:716px" width="176" height="28"><rect x="0.5" y="0.5" width="175" height="27" fill="#fff" stroke="#c2c2c2" stroke-width="1" stroke-dasharray="3 3" shape-rendering="crispEdges"/></svg>
<div class="a" style="left:931px;top:723px;width:172px;text-align:right;font-size:13px;font-weight:bold;letter-spacing:0.72px;color:#ff00ff;line-height:16px;white-space:nowrap">0</div>
<svg class="a" style="left:1110px;top:716px" width="136" height="28"><rect x="0.5" y="0.5" width="135" height="27" fill="#fff" stroke="#c2c2c2" stroke-width="1" stroke-dasharray="3 3" shape-rendering="crispEdges"/></svg>
<div class="a" style="left:1109px;top:723px;width:132px;text-align:right;font-size:13px;font-weight:bold;letter-spacing:0.72px;color:#ff00ff;line-height:16px;white-space:nowrap">0</div>
<svg class="a" style="left:1248px;top:716px" width="173" height="28"><rect x="0.5" y="0.5" width="172" height="27" fill="#fff" stroke="#c2c2c2" stroke-width="1" stroke-dasharray="3 3" shape-rendering="crispEdges"/></svg>
<div class="a" style="left:1247px;top:723px;width:169px;text-align:right;font-size:13px;font-weight:bold;letter-spacing:0.72px;color:#ff00ff;line-height:16px;white-space:nowrap">0</div>
<svg class="a" style="left:1423px;top:716px" width="128" height="28"><rect x="0.5" y="0.5" width="127" height="27" fill="#fff" stroke="#c2c2c2" stroke-width="1" stroke-dasharray="3 3" shape-rendering="crispEdges"/></svg>
<div class="a" style="left:1422px;top:723px;width:124px;text-align:right;font-size:13px;font-weight:bold;letter-spacing:0.72px;color:#ff00ff;line-height:16px;white-space:nowrap">0</div>
<div class="hl" style="left:38px;top:746px;width:1871px;background:#d2d2d2"></div>
<div class="hl" style="left:8px;top:290px;width:29px;background:#a6a6a6"></div>
<div class="hl" style="left:8px;top:316px;width:29px;background:#a6a6a6"></div>
<div class="hl" style="left:8px;top:342px;width:29px;background:#a6a6a6"></div>
<div class="hl" style="left:8px;top:368px;width:29px;background:#a6a6a6"></div>
<div class="hl" style="left:8px;top:402px;width:29px;background:#a6a6a6"></div>
<div class="hl" style="left:8px;top:428px;width:29px;background:#a6a6a6"></div>
<div class="hl" style="left:8px;top:454px;width:29px;background:#a6a6a6"></div>
<div class="hl" style="left:8px;top:488px;width:29px;background:#a6a6a6"></div>
<div class="hl" style="left:8px;top:514px;width:29px;background:#a6a6a6"></div>
<div class="hl" style="left:8px;top:540px;width:29px;background:#a6a6a6"></div>
<div class="hl" style="left:8px;top:574px;width:29px;background:#a6a6a6"></div>
<div class="hl" style="left:8px;top:600px;width:29px;background:#a6a6a6"></div>
<div class="hl" style="left:8px;top:626px;width:29px;background:#a6a6a6"></div>
<div class="hl" style="left:8px;top:660px;width:29px;background:#a6a6a6"></div>
<div class="hl" style="left:8px;top:686px;width:29px;background:#a6a6a6"></div>
<div class="hl" style="left:8px;top:712px;width:29px;background:#a6a6a6"></div>
<div class="hl" style="left:8px;top:746px;width:29px;background:#a6a6a6"></div>
<div class="hl" style="left:8px;top:746px;width:1901px;background:#a6a6a6"></div>
<div class="hl" style="left:8px;top:927px;width:1901px;background:#a6a6a6"></div>
<div class="a" style="left:8px;top:928px;width:1901px;height:33px;background:repeating-linear-gradient(135deg,#fff 0,#fff 3.2px,#ebebeb 3.2px,#ebebeb 4.24px)"></div>
<svg class="a" style="left:627px;top:930px" width="139" height="30"><rect x="0.5" y="0.5" width="138" height="29" fill="#fff" stroke="#c2c2c2" stroke-width="1" stroke-dasharray="3 3" shape-rendering="crispEdges"/></svg>
<div class="a" style="left:626px;top:937px;width:136px;text-align:right;font-size:14px;font-weight:bold;letter-spacing:1.05px;color:#ff0000;line-height:16px;white-space:nowrap">0</div>
<svg class="a" style="left:768px;top:930px" width="162" height="30"><rect x="0.5" y="0.5" width="161" height="29" fill="#fff" stroke="#c2c2c2" stroke-width="1" stroke-dasharray="3 3" shape-rendering="crispEdges"/></svg>
<div class="a" style="left:767px;top:937px;width:159px;text-align:right;font-size:14px;font-weight:bold;letter-spacing:1.05px;color:#ff0000;line-height:16px;white-space:nowrap">112,691,600</div>
<svg class="a" style="left:932px;top:930px" width="176" height="30"><rect x="0.5" y="0.5" width="175" height="29" fill="#fff" stroke="#c2c2c2" stroke-width="1" stroke-dasharray="3 3" shape-rendering="crispEdges"/></svg>
<div class="a" style="left:931px;top:937px;width:173px;text-align:right;font-size:14px;font-weight:bold;letter-spacing:1.05px;color:#ff0000;line-height:16px;white-space:nowrap">500,000</div>
<svg class="a" style="left:1110px;top:930px" width="136" height="30"><rect x="0.5" y="0.5" width="135" height="29" fill="#fff" stroke="#c2c2c2" stroke-width="1" stroke-dasharray="3 3" shape-rendering="crispEdges"/></svg>
<div class="a" style="left:1109px;top:937px;width:133px;text-align:right;font-size:14px;font-weight:bold;letter-spacing:1.05px;color:#ff0000;line-height:16px;white-space:nowrap">122,091,600</div>
<svg class="a" style="left:1248px;top:930px" width="173" height="30"><rect x="0.5" y="0.5" width="172" height="29" fill="#fff" stroke="#c2c2c2" stroke-width="1" stroke-dasharray="3 3" shape-rendering="crispEdges"/></svg>
<div class="a" style="left:1247px;top:937px;width:170px;text-align:right;font-size:14px;font-weight:bold;letter-spacing:1.05px;color:#ff0000;line-height:16px;white-space:nowrap">-9,900,000</div>
<svg class="a" style="left:1423px;top:930px" width="128" height="30"><rect x="0.5" y="0.5" width="127" height="29" fill="#fff" stroke="#c2c2c2" stroke-width="1" stroke-dasharray="3 3" shape-rendering="crispEdges"/></svg>
<div class="a" style="left:1422px;top:937px;width:125px;text-align:right;font-size:14px;font-weight:bold;letter-spacing:1.05px;color:#ff0000;line-height:16px;white-space:nowrap">-19,800,000</div>
<div class="dh" style="left:0;top:972px;width:1919px"></div>
<div class="dv" style="left:1613px;top:975px;height:24px"></div>
<div class="a" style="left:8px;top:980px;font-size:11.7px;font-weight:bold;line-height:14px;white-space:nowrap">Chào mừng: Administrator đến với phần mềm MekongSoft</div>
<div class="a" style="left:349px;top:981px;width:1px;height:11px;background:#b4c0d4"></div>
<div class="a" style="left:363px;top:980px;font-size:11.7px;font-weight:bold;line-height:14px;white-space:nowrap">Version: 4.11.0</div>
<div class="a" style="left:459px;top:981px;width:1px;height:11px;background:#b4c0d4"></div>
<div class="a" style="left:472px;top:980px;font-size:11.7px;font-weight:bold;line-height:14px;white-space:nowrap;color:#ff0000;letter-spacing:0.3px">Ngày: 07/02/2026 10:10:38 SA</div>
<div class="a" style="left:1624px;top:980px;font-size:11.7px;font-weight:bold;line-height:14px;white-space:nowrap;letter-spacing:0.08px">@2023 MekongSoft. Thông tin hỗ trợ: 0901 000 508</div>
</body></html>
